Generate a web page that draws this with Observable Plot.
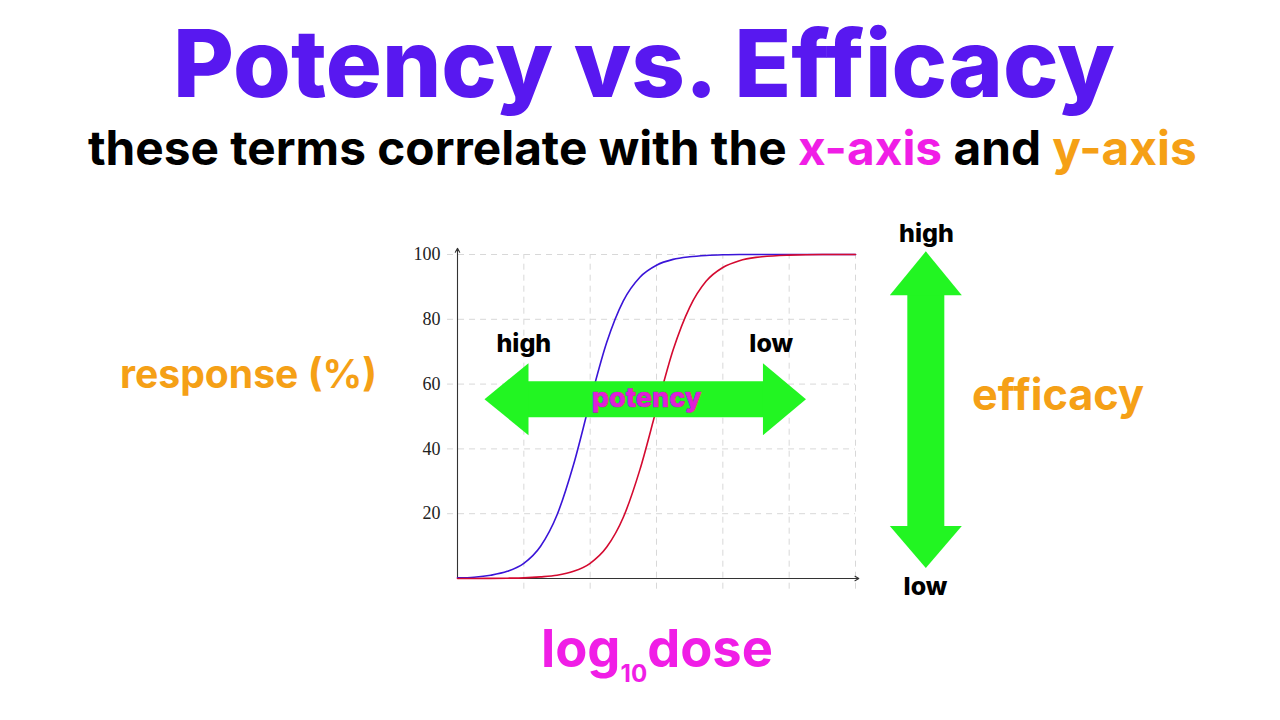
<!DOCTYPE html>
<html><head><meta charset="utf-8">
<script src="https://cdn.jsdelivr.net/npm/d3@7"></script>
<script src="https://cdn.jsdelivr.net/npm/@observablehq/plot@0.6"></script>
<style>
html,body{margin:0;padding:0;background:#fff;}
#page{position:relative;width:1280px;height:720px;overflow:hidden;font-family:Inter,"Open Sans",sans-serif;font-weight:700;}
.t{position:absolute;white-space:nowrap;line-height:1;font-size:40px;}
.mk{display:inline-block;width:0;height:0;}
#chart{position:absolute;left:0;top:200px;}
sub{font-size:0.46em;vertical-align:-0.62em;line-height:0;}
</style></head><body><div id="page">
<div id="chart"></div>
<div class="t" id="title" style="color:#5818f0;font-weight:800">Potency vs. Efficacy<span class="mk"></span></div>
<div class="t" id="subtitle" style="color:#000">these terms correlate with the <span style="color:#f01ee6">x-axis</span> and <span style="color:#f5a016">y-axis</span><span class="mk"></span></div>
<div class="t" id="ylab" style="color:#f5a016">response (%)<span class="mk"></span></div>
<div class="t" id="eff" style="color:#f5a016">efficacy<span class="mk"></span></div>
<div class="t" id="xlab" style="color:#f01ee6">log<sub>10</sub>dose<span class="mk"></span></div>
</div>
<script>
// ---- data ----
const logDose = [0,0.25,0.5,0.75,1,1.25,1.5,1.75,2,2.25,2.5,2.75,3,3.25,3.5,3.75,4,4.25,4.5,5,5.5,6];
const blueResponse = [0.2,0.4,1.0,2.2,4.7,9.9,19.6,35.2,54.7,72.9,85.7,93.0,96.7,98.5,99.3,99.7,99.9,100,100,100,100,100];
const redResponse  = [0,0,0.05,0.1,0.2,0.5,1.0,2.2,4.7,9.7,18.9,33.6,52.3,70.5,83.7,91.8,96.0,98.1,99.1,99.8,100,100];
const yTicks = [20,40,60,80,100];
const xGrid = [1,2,3,4,5,6];

// annotation anchors (data units)
const potencyArrow = {y: 55.35, leftBase: 1.055, rightBase: 4.62};
const efficacyArrow = {x: 7.06, topBase: 87.7, bottomBase: 15.9};
const labels = [
  {text: "high", x: 1.0, y: 69.8, color: "#000"},
  {text: "low", x: 4.73, y: 69.8, color: "#000"},
  {text: "high", x: 7.07, y: 104.0, color: "#000"},
  {text: "low", x: 7.055, y: -5.15, color: "#000"}
];

const blueData = logDose.map((d,i)=>({x:d, y:blueResponse[i]}));
const redData = logDose.map((d,i)=>({x:d, y:redResponse[i]}));

const GREEN = "#22f522";
const head = (pts) => ({draw(ctx){ ctx.moveTo(pts[0][0],pts[0][1]); for (const p of pts.slice(1)) ctx.lineTo(p[0],p[1]); ctx.closePath(); }});
const headRight = head([[-1,-36],[42,0],[-1,36]]);
const headLeft = head([[1,-36],[-43,0],[1,36]]);
const headUp = head([[-36,1],[0,-43],[36,1]]);
const headDown = head([[-36,-1],[0,41],[36,-1]]);

const chart = Plot.plot({
  width: 1280, height: 520,
  marginLeft: 457, marginRight: 425, marginTop: 54, marginBottom: 142,
  x: {domain: [0,6], axis: null},
  y: {domain: [0,100], axis: null},
  style: {background: "transparent", overflow: "visible"},
  marks: [
    Plot.ruleY(yTicks, {x1: -0.15, x2: 6, stroke: "#d8d8d8", strokeDasharray: "6,5", strokeWidth: 1}),
    Plot.ruleX(xGrid, {y1: -3.3, y2: 100, stroke: "#d8d8d8", strokeDasharray: "6,5", strokeWidth: 1}),
    Plot.axisY(yTicks, {tickSize: 0, tickPadding: 17, fontSize: 18, fontFamily: "Liberation Serif", fontWeight: 400, fill: "#222", label: null}),
    Plot.arrow([{x1:0,y1:0,x2:0,y2:101.9},{x1:0,y1:0,x2:6.05,y2:0}], {x1:"x1",y1:"y1",x2:"x2",y2:"y2", stroke:"#333", strokeWidth: 1.1, headLength: 6}),
    Plot.line(blueData, {x:"x", y:"y", stroke:"#3a14d8", strokeWidth:1.6, curve:"monotone-x"}),
    Plot.line(redData, {x:"x", y:"y", stroke:"#d40a30", strokeWidth:1.6, curve:"monotone-x"}),
    // potency arrow
    Plot.link([potencyArrow], {x1:"leftBase", x2:"rightBase", y1:"y", y2:"y", stroke: GREEN, strokeWidth: 36, strokeLinecap:"butt"}),
    Plot.dot([potencyArrow], {x:"leftBase", y:"y", symbol: headLeft, fill: GREEN, stroke: "none", r: 5}),
    Plot.dot([potencyArrow], {x:"rightBase", y:"y", symbol: headRight, fill: GREEN, stroke: "none", r: 5}),
    // efficacy arrow
    Plot.link([efficacyArrow], {x1:"x", x2:"x", y1:"topBase", y2:"bottomBase", stroke: GREEN, strokeWidth: 37, strokeLinecap:"butt"}),
    Plot.dot([efficacyArrow], {x:"x", y:"topBase", symbol: headUp, fill: GREEN, stroke: "none", r: 5}),
    Plot.dot([efficacyArrow], {x:"x", y:"bottomBase", symbol: headDown, fill: GREEN, stroke: "none", r: 5}),
    Plot.text([{t:"potency", x:2.852, y:52.8}], {x:"x", y:"y", text:"t", lineAnchor:"bottom", fontSize: 27, fontWeight: 800, fontFamily:"Inter, 'Open Sans', sans-serif", fill:"#e01ed8", stroke:"#9a1a9a", strokeWidth:0.7}),
    Plot.text(labels, {x:"x", y:"y", text:"text", lineAnchor:"bottom", fontSize: 25, fontWeight: 800, fontFamily:"Inter, 'Open Sans', sans-serif", fill:"color"})
  ]
});
document.getElementById("chart").appendChild(chart);

// ---- place HTML texts ----
const page = document.getElementById("page");
function fitText(id, left, right, baseline){
  const el = document.getElementById(id);
  el.style.left = "0px"; el.style.top = "0px";
  let r = el.getBoundingClientRect();
  let fs = parseFloat(getComputedStyle(el).fontSize);
  fs = fs * (right - left) / r.width;
  el.style.fontSize = fs + "px";
  const pr = page.getBoundingClientRect();
  r = el.getBoundingClientRect();
  const m = el.querySelector(".mk").getBoundingClientRect();
  el.style.left = (left - (r.left - pr.left)) + "px";
  el.style.top = (baseline - (m.top - pr.top)) + "px";
}
fitText("title", 173, 1115, 97);
fitText("subtitle", 88, 1197, 165);
fitText("ylab", 120, 377, 388);
fitText("eff", 972, 1144, 410);
fitText("xlab", 541, 773, 667);
</script>
</body></html>
